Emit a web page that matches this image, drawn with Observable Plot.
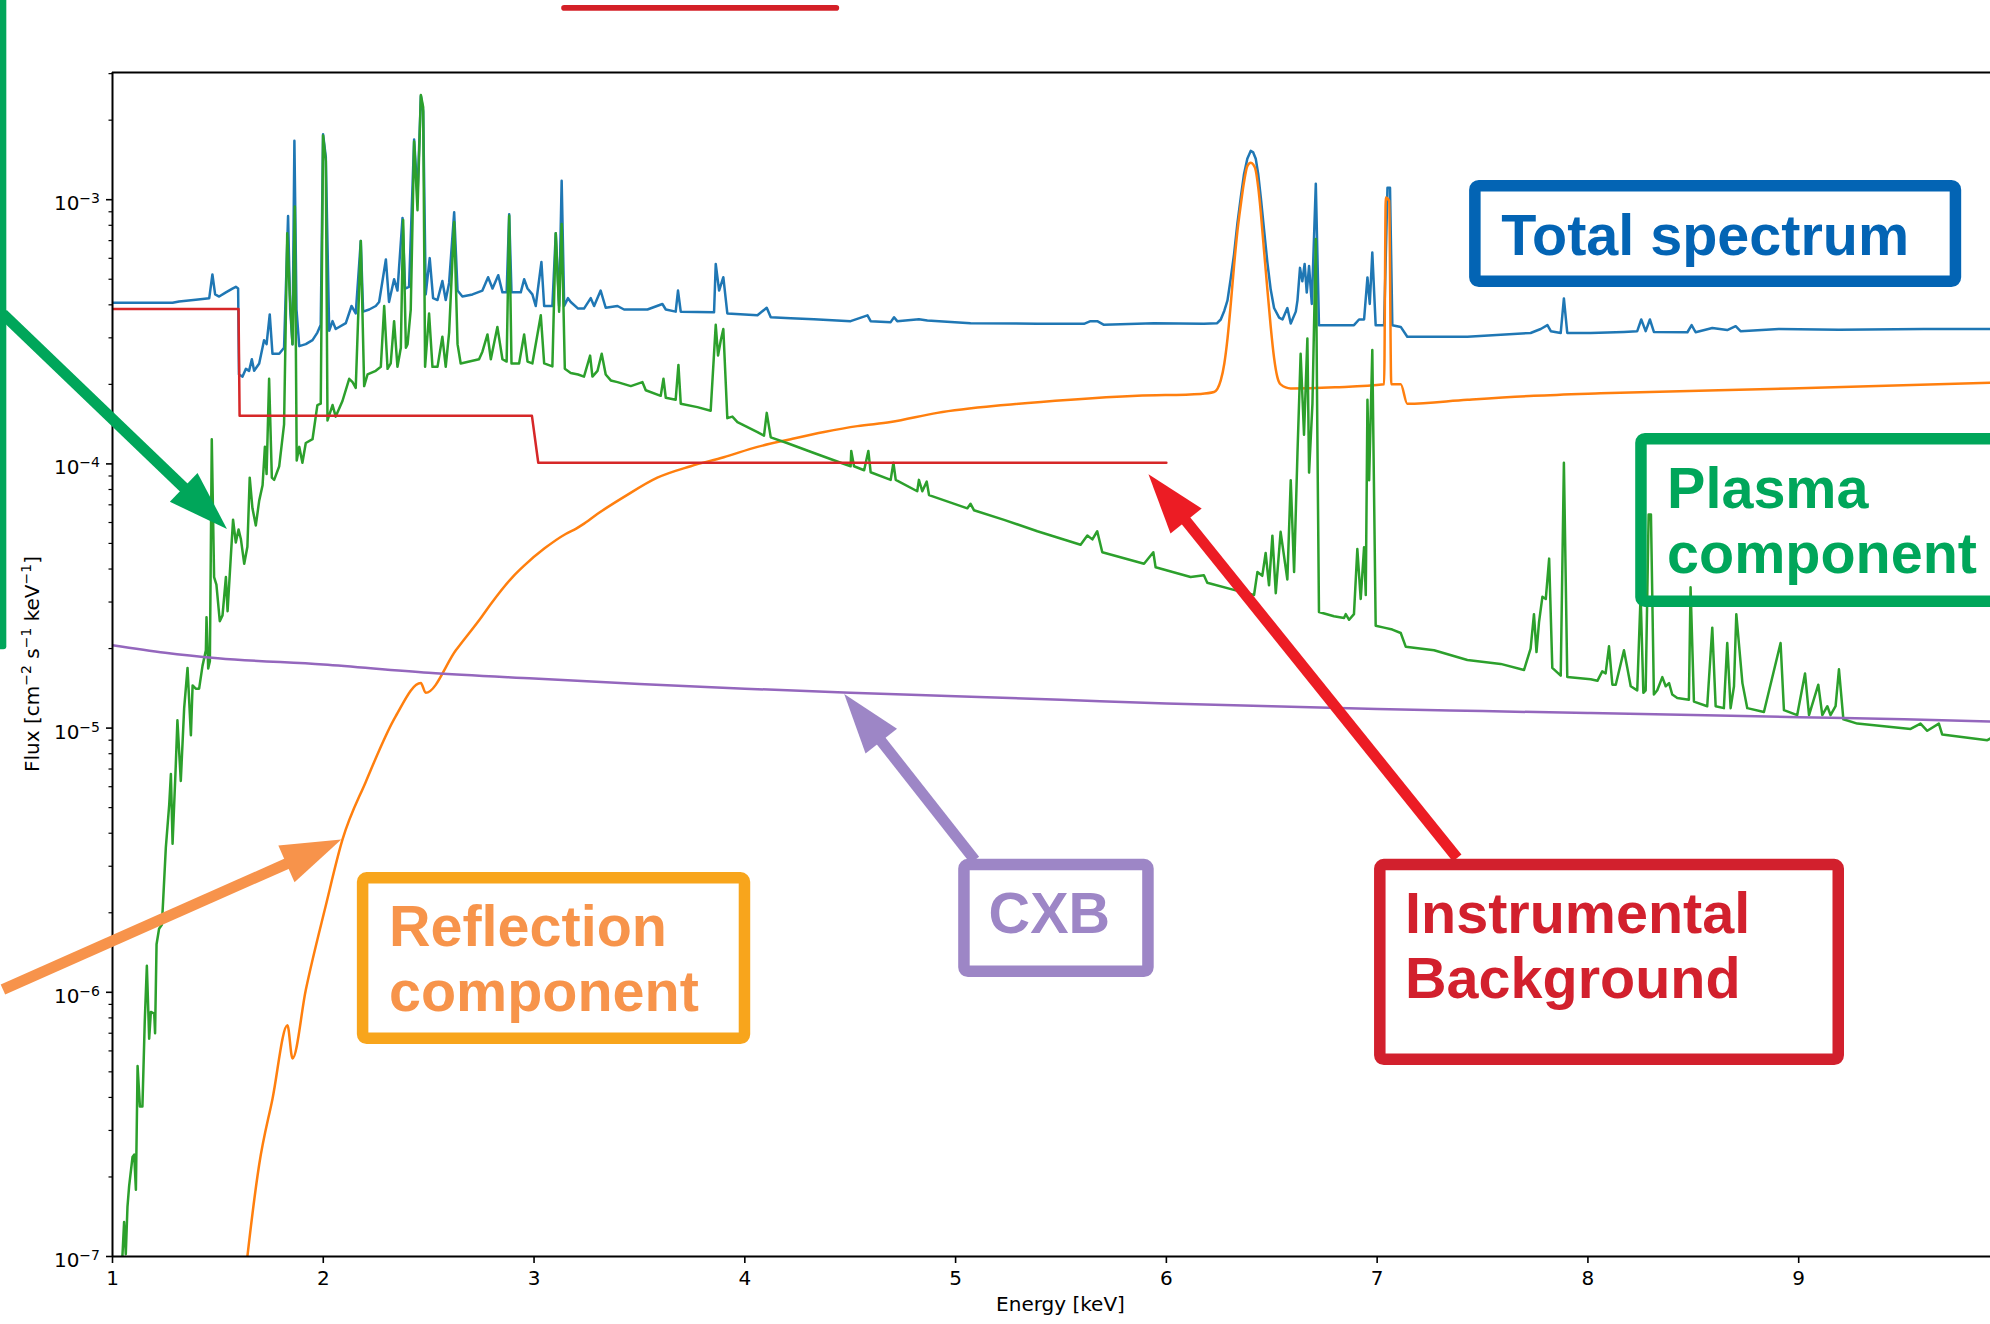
<!DOCTYPE html>
<html><head><meta charset="utf-8">
<script src="https://cdn.jsdelivr.net/npm/d3@7"></script>
<script src="https://cdn.jsdelivr.net/npm/@observablehq/plot@0.6"></script>
<style>html,body{margin:0;padding:0;background:#fff;overflow:hidden}</style>
</head><body><div id="chart"></div>
<script>
// ---------------- data: [energy keV, flux cm^-2 s^-1 keV^-1] ----------------
const totalSpectrum = [
[1.000,4.07e-4],[1.285,4.07e-4],[1.316,4.12e-4],[1.395,4.18e-4],[1.459,4.24e-4],[1.474,5.21e-4],[1.487,4.38e-4],[1.506,4.30e-4],
[1.538,4.46e-4],[1.569,4.61e-4],[1.585,4.68e-4],[1.596,4.61e-4],[1.600,2.18e-4],[1.617,2.14e-4],[1.633,2.29e-4],[1.648,2.25e-4],
[1.661,2.49e-4],[1.672,2.25e-4],[1.696,2.40e-4],[1.719,2.94e-4],[1.731,2.84e-4],[1.746,3.68e-4],[1.759,2.61e-4],[1.791,2.61e-4],
[1.814,2.75e-4],[1.833,8.67e-4],[1.843,3.84e-4],[1.854,2.84e-4],[1.863,1.67e-3],[1.873,3.84e-4],[1.886,2.79e-4],[1.917,2.84e-4],
[1.949,2.94e-4],[1.972,3.14e-4],[1.988,3.36e-4],[1.999,1.77e-3],[2.012,1.45e-3],[2.028,3.19e-4],[2.044,3.47e-4],[2.059,3.24e-4],
[2.107,3.41e-4],[2.134,3.96e-4],[2.154,3.71e-4],[2.178,6.98e-4],[2.189,3.77e-4],[2.218,3.84e-4],[2.249,3.96e-4],[2.265,4.10e-4],
[2.297,5.94e-4],[2.312,4.10e-4],[2.336,5.00e-4],[2.352,4.53e-4],[2.376,8.53e-4],[2.388,4.61e-4],[2.407,4.68e-4],[2.431,1.69e-3],
[2.447,1.04e-3],[2.463,2.47e-3],[2.474,2.16e-3],[2.486,4.38e-4],[2.505,6.01e-4],[2.521,4.24e-4],[2.542,4.17e-4],[2.565,4.92e-4],
[2.581,4.17e-4],[2.597,4.84e-4],[2.621,8.96e-4],[2.637,4.53e-4],[2.660,4.30e-4],[2.708,4.38e-4],[2.755,4.53e-4],[2.782,5.09e-4],
[2.803,4.61e-4],[2.830,5.18e-4],[2.850,4.46e-4],[2.870,4.46e-4],[2.882,8.81e-4],[2.893,4.46e-4],[2.937,4.46e-4],[2.953,5.00e-4],
[2.969,4.61e-4],[2.992,4.38e-4],[3.008,3.96e-4],[3.035,5.81e-4],[3.048,3.96e-4],[3.087,3.96e-4],[3.103,7.46e-4],[3.119,3.96e-4],
[3.131,1.18e-3],[3.143,3.96e-4],[3.161,4.24e-4],[3.174,4.10e-4],[3.209,3.87e-4],[3.237,3.87e-4],[3.269,4.24e-4],[3.285,3.96e-4],
[3.316,4.53e-4],[3.340,3.90e-4],[3.396,3.96e-4],[3.427,3.84e-4],[3.538,3.84e-4],[3.609,4.03e-4],[3.625,3.84e-4],[3.672,3.77e-4],
[3.683,4.53e-4],[3.696,3.77e-4],[3.854,3.75e-4],[3.862,5.71e-4],[3.878,4.53e-4],[3.898,5.09e-4],[3.917,3.71e-4],[4.060,3.65e-4],
[4.104,3.90e-4],[4.123,3.59e-4],[4.218,3.56e-4],[4.328,3.53e-4],[4.502,3.47e-4],[4.582,3.65e-4],[4.597,3.47e-4],[4.692,3.44e-4],
[4.708,3.59e-4],[4.723,3.47e-4],[4.826,3.53e-4],[4.866,3.49e-4],[5.071,3.41e-4],[5.388,3.39e-4],[5.609,3.39e-4],[5.640,3.47e-4],
[5.672,3.47e-4],[5.704,3.36e-4],[5.941,3.41e-4],[6.178,3.39e-4],[6.241,3.41e-4],[6.258,3.52e-4],[6.275,3.80e-4],[6.290,4.16e-4],
[6.305,5.01e-4],[6.321,6.21e-4],[6.337,8.13e-4],[6.353,1.02e-3],[6.368,1.245e-3],[6.384,1.43e-3],[6.400,1.53e-3],[6.412,1.51e-3],
[6.424,1.43e-3],[6.436,1.245e-3],[6.448,1.02e-3],[6.463,7.76e-4],[6.479,5.81e-4],[6.495,4.57e-4],[6.511,3.89e-4],[6.535,3.58e-4],
[6.551,3.52e-4],[6.574,3.89e-4],[6.590,3.40e-4],[6.614,3.77e-4],[6.622,4.16e-4],[6.634,5.52e-4],[6.645,4.91e-4],[6.656,5.71e-4],
[6.666,4.45e-4],[6.677,5.61e-4],[6.690,4.03e-4],[6.709,1.15e-3],[6.724,3.35e-4],[6.890,3.35e-4],[6.914,3.52e-4],[6.938,3.52e-4],
[6.954,5.08e-4],[6.965,4.03e-4],[6.977,6.31e-4],[6.993,3.35e-4],[7.033,3.35e-4],[7.049,1.11e-3],[7.061,1.11e-3],[7.072,3.35e-4],
[7.112,3.30e-4],[7.143,3.03e-4],[7.428,3.03e-4],[7.728,3.13e-4],[7.776,3.24e-4],[7.808,3.35e-4],[7.824,3.18e-4],[7.871,3.13e-4],
[7.886,4.23e-4],[7.902,3.13e-4],[8.013,3.13e-4],[8.171,3.16e-4],[8.234,3.18e-4],[8.253,3.52e-4],[8.274,3.18e-4],[8.294,3.52e-4],
[8.313,3.16e-4],[8.472,3.15e-4],[8.492,3.35e-4],[8.511,3.15e-4],[8.590,3.27e-4],[8.661,3.21e-4],[8.701,3.32e-4],[8.724,3.18e-4],
[8.906,3.24e-4],[9.191,3.22e-4],[9.594,3.24e-4],[9.910,3.24e-4]
];

const reflectionComponent = [
[1.600,5.0e-8],[1.640,1.0e-7],[1.696,2.23e-7],[1.759,3.95e-7],[1.830,7.5e-7],[1.854,5.62e-7],[1.917,1.02e-6],[2.012,2.13e-6],
[2.091,3.78e-6],[2.202,6.27e-6],[2.344,1.11e-5],[2.463,1.48e-5],[2.486,1.36e-5],[2.629,1.97e-5],[2.750,2.63e-5],[2.795,2.95e-5],
[2.898,3.73e-5],[2.953,4.12e-5],[3.050,4.79e-5],[3.150,5.43e-5],[3.200,5.69e-5],[3.230,5.89e-5],[3.300,6.46e-5],[3.427,7.50e-5],
[3.585,8.87e-5],[3.743,9.8e-5],
[3.900,1.06e-4],[4.060,1.16e-4],[4.218,1.24e-4],[4.376,1.32e-4],[4.534,1.39e-4],[4.692,1.44e-4],[4.913,1.56e-4],[5.230,1.67e-4],
[5.546,1.75e-4],[5.862,1.81e-4],[6.163,1.84e-4],[6.226,1.87e-4],[6.258,2.07e-4],[6.275,2.40e-4],[6.290,2.98e-4],[6.305,3.98e-4],
[6.321,5.61e-4],[6.337,7.59e-4],[6.353,9.57e-4],[6.368,1.16e-3],[6.384,1.34e-3],[6.400,1.38e-3],[6.412,1.36e-3],[6.424,1.29e-3],
[6.436,1.11e-3],[6.448,8.95e-4],[6.463,6.46e-4],[6.479,4.60e-4],[6.495,3.31e-4],[6.511,2.52e-4],[6.526,2.14e-4],[6.542,2.0e-4],
[6.590,1.93e-4],[6.800,1.95e-4],[7.033,2.0e-4],[7.041,1.02e-3],[7.057,9.9e-4],[7.067,2.0e-4],[7.112,2.0e-4],[7.143,1.69e-4],
[7.428,1.75e-4],[7.744,1.81e-4],[8.060,1.85e-4],[8.960,1.93e-4],[9.910,2.03e-4]
];

const plasmaComponent = [
[1.000,3e-8],[1.040,8.0e-8],[1.047,1.0e-7],[1.055,1.35e-7],[1.063,1.02e-7],[1.071,1.54e-7],[1.079,1.85e-7],[1.095,2.38e-7],
[1.103,2.43e-7],[1.111,1.79e-7],[1.119,5.26e-7],[1.130,3.70e-7],[1.142,3.70e-7],[1.153,7.74e-7],[1.163,1.26e-6],[1.174,6.67e-7],
[1.182,8.43e-7],[1.198,8.30e-7],[1.202,7.0e-7],[1.209,1.52e-6],[1.221,1.74e-6],[1.234,1.80e-6],[1.240,2.20e-6],[1.253,3.53e-6],
[1.269,5.12e-6],[1.277,6.70e-6],[1.285,3.65e-6],[1.300,7.16e-6],[1.308,1.07e-5],[1.324,6.31e-6],[1.340,1.19e-5],[1.356,1.69e-5],
[1.372,9.4e-6],[1.380,1.45e-5],[1.395,1.41e-5],[1.411,1.41e-5],[1.427,1.72e-5],[1.443,1.97e-5],[1.446,2.63e-5],[1.454,1.68e-5],
[1.462,1.79e-5],[1.471,1.24e-4],[1.482,3.73e-5],[1.493,3.49e-5],[1.509,2.54e-5],[1.522,2.67e-5],[1.538,3.73e-5],[1.546,2.77e-5],
[1.561,4.41e-5],[1.572,6.15e-5],[1.585,5.04e-5],[1.598,5.65e-5],[1.609,5.2e-5],[1.625,4.19e-5],[1.640,4.86e-5],[1.651,8.87e-5],
[1.664,6.79e-5],[1.680,5.85e-5],[1.696,7.26e-5],[1.712,8.3e-5],[1.723,1.16e-4],[1.731,9.16e-5],[1.743,2.1e-4],[1.756,8.87e-5],
[1.767,8.7e-5],[1.791,9.8e-5],[1.814,1.41e-4],[1.829,7.46e-4],[1.841,4.38e-4],[1.854,2.84e-4],[1.865,9.42e-4],[1.874,1.03e-4],
[1.886,1.16e-4],[1.901,1.01e-4],[1.917,1.2e-4],[1.949,1.24e-4],[1.972,1.67e-4],[1.988,1.69e-4],[1.999,1.75e-3],[2.012,1.40e-3],
[2.020,1.46e-4],[2.044,1.67e-4],[2.059,1.51e-4],[2.091,1.73e-4],[2.123,2.1e-4],[2.139,2.04e-4],[2.154,1.94e-4],[2.178,6.98e-4],
[2.194,1.97e-4],[2.210,2.18e-4],[2.249,2.25e-4],[2.273,2.33e-4],[2.289,3.96e-4],[2.305,2.29e-4],[2.320,2.4e-4],[2.336,3.47e-4],
[2.352,2.33e-4],[2.368,2.75e-4],[2.379,8.38e-4],[2.392,2.75e-4],[2.400,2.84e-4],[2.415,3.84e-4],[2.431,1.66e-3],[2.447,9.12e-4],
[2.463,2.49e-3],[2.474,2.24e-3],[2.483,2.33e-4],[2.502,3.71e-4],[2.518,2.33e-4],[2.542,2.33e-4],[2.565,3.03e-4],[2.581,2.33e-4],
[2.597,3.14e-4],[2.621,8.24e-4],[2.637,2.84e-4],[2.652,2.4e-4],[2.739,2.49e-4],[2.755,2.66e-4],[2.779,3.09e-4],[2.795,2.49e-4],
[2.826,3.3e-4],[2.850,2.49e-4],[2.870,2.44e-4],[2.882,8.7e-4],[2.893,2.4e-4],[2.929,2.4e-4],[2.953,3.09e-4],[2.969,2.44e-4],
[2.992,2.4e-4],[3.032,3.65e-4],[3.048,2.4e-4],[3.087,2.34e-4],[3.103,7.46e-4],[3.119,3.77e-4],[3.131,8.1e-4],[3.146,2.29e-4],
[3.174,2.21e-4],[3.209,2.18e-4],[3.237,2.14e-4],[3.266,2.57e-4],[3.277,2.14e-4],[3.301,2.25e-4],[3.321,2.61e-4],[3.340,2.18e-4],
[3.364,2.07e-4],[3.396,2.04e-4],[3.459,1.97e-4],[3.514,2.04e-4],[3.530,1.9e-4],[3.601,1.81e-4],[3.614,2.1e-4],[3.625,1.78e-4],
[3.672,1.75e-4],[3.685,2.37e-4],[3.696,1.69e-4],[3.775,1.64e-4],[3.838,1.59e-4],[3.862,3.36e-4],[3.873,2.57e-4],[3.886,2.94e-4],
[3.898,3.24e-4],[3.917,1.49e-4],[3.941,1.51e-4],[3.965,1.44e-4],[4.060,1.32e-4],[4.091,1.28e-4],[4.104,1.56e-4],[4.123,1.26e-4],
[4.200,1.2e-4],[4.328,1.1e-4],[4.455,1.01e-4],[4.502,9.8e-5],[4.505,1.12e-4],[4.518,9.8e-5],[4.566,9.46e-5],[4.586,1.12e-4],
[4.597,9.3e-5],[4.692,8.7e-5],[4.705,1.01e-4],[4.716,8.7e-5],[4.818,7.88e-5],[4.826,8.7e-5],[4.842,7.88e-5],[4.863,8.57e-5],
[4.874,7.62e-5],[5.056,6.79e-5],[5.071,7.06e-5],[5.087,6.68e-5],[5.230,6.14e-5],[5.388,5.56e-5],[5.593,4.94e-5],[5.625,5.36e-5],
[5.649,5.18e-5],[5.672,5.56e-5],[5.696,4.63e-5],[5.894,4.19e-5],[5.938,4.63e-5],[5.949,4.06e-5],[6.115,3.73e-5],[6.178,3.79e-5],
[6.194,3.55e-5],[6.329,3.32e-5],[6.416,3.19e-5],[6.432,3.9e-5],[6.455,3.77e-5],[6.471,4.6e-5],[6.487,3.47e-5],[6.503,5.35e-5],
[6.519,3.24e-5],[6.542,5.53e-5],[6.574,3.65e-5],[6.590,8.67e-5],[6.606,3.9e-5],[6.622,1.1e-4],[6.637,2.61e-4],[6.653,1.29e-4],
[6.669,2.98e-4],[6.677,9.27e-5],[6.693,1.69e-4],[6.709,7.1e-4],[6.716,1.38e-4],[6.724,2.75e-5],[6.795,2.65e-5],[6.843,2.61e-5],
[6.851,2.7e-5],[6.867,2.57e-5],[6.890,2.7e-5],[6.906,4.76e-5],[6.922,3.08e-5],[6.938,4.84e-5],[6.946,3.19e-5],[6.954,1.75e-4],
[6.962,8.67e-5],[6.977,2.7e-4],[6.993,2.44e-5],[7.033,2.4e-5],[7.072,2.36e-5],[7.112,2.29e-5],[7.136,2.03e-5],[7.270,1.97e-5],
[7.428,1.81e-5],[7.586,1.75e-5],[7.697,1.66e-5],[7.728,2.0e-5],[7.744,2.7e-5],[7.756,1.94e-5],[7.768,2.52e-5],[7.784,3.14e-5],
[7.800,3.08e-5],[7.816,4.38e-5],[7.831,1.69e-5],[7.871,1.58e-5],[7.886,1.01e-4],[7.902,1.56e-5],[8.013,1.53e-5],[8.045,1.51e-5],
[8.068,1.64e-5],[8.084,1.61e-5],[8.100,2.04e-5],[8.116,1.46e-5],[8.132,1.46e-5],[8.171,1.97e-5],[8.187,1.69e-5],[8.203,1.44e-5],
[8.234,1.39e-5],[8.250,3.19e-5],[8.263,1.36e-5],[8.274,1.39e-5],[8.288,6.43e-5],[8.299,6.43e-5],[8.313,1.34e-5],[8.329,1.39e-5],
[8.353,1.56e-5],[8.369,1.44e-5],[8.385,1.48e-5],[8.400,1.34e-5],[8.424,1.3e-5],[8.479,1.28e-5],[8.487,3.41e-5],[8.503,1.26e-5],
[8.566,1.21e-5],[8.590,2.4e-5],[8.606,1.21e-5],[8.645,1.19e-5],[8.661,2.1e-5],[8.677,1.19e-5],[8.693,1.44e-5],[8.704,2.7e-5],
[8.733,1.48e-5],[8.756,1.19e-5],[8.835,1.15e-5],[8.914,2.1e-5],[8.930,1.17e-5],[8.993,1.12e-5],[9.030,1.61e-5],[9.049,1.12e-5],
[9.093,1.46e-5],[9.112,1.12e-5],[9.136,1.21e-5],[9.151,1.12e-5],[9.175,1.21e-5],[9.191,1.67e-5],[9.212,1.08e-5],[9.278,1.04e-5],
[9.531,9.93e-6],[9.578,1.04e-5],[9.610,9.77e-6],[9.665,1.04e-5],[9.681,9.45e-6],[9.895,9.0e-6],[9.910,9.14e-6]
];

const instrumentalBackground = [
[1.000,3.86e-4],[1.598,3.86e-4],[1.603,1.52e-4],[2.990,1.52e-4],[3.020,1.01e-4],[6.000,1.01e-4]
];

const cxbComponent = [
[1.0,2.06e-5],[1.25,1.93e-5],[1.5,1.84e-5],[2.0,1.74e-5],[2.5,1.62e-5],[3.0,1.54e-5],[3.5,1.47e-5],[4.0,1.41e-5],
[4.5,1.36e-5],[5.0,1.32e-5],[5.5,1.28e-5],[6.0,1.24e-5],[6.5,1.21e-5],[7.0,1.18e-5],[7.5,1.16e-5],[8.0,1.14e-5],
[8.5,1.12e-5],[9.0,1.10e-5],[9.5,1.08e-5],[9.91,1.06e-5]
];

// ---------------- ticks ----------------
const xTicks = [1, 2, 3, 4, 5, 6, 7, 8, 9];
const xTickLabels = ["1", "2", "3", "4", "5", "6", "7", "8", "9"];
const yMajorTicks = [1e-7, 1e-6, 1e-5, 1e-4, 1e-3];
const yTickExponents = ["\u22127", "\u22126", "\u22125", "\u22124", "\u22123"];
const yMinorTicks = [2e-7,3e-7,4e-7,5e-7,6e-7,7e-7,8e-7,9e-7, 2e-6,3e-6,4e-6,5e-6,6e-6,7e-6,8e-6,9e-6,
  2e-5,3e-5,4e-5,5e-5,6e-5,7e-5,8e-5,9e-5, 2e-4,3e-4,4e-4,5e-4,6e-4,7e-4,8e-4,9e-4, 2e-3,3e-3];

// ---------------- annotations (in data coordinates) ----------------
const annotationBoxes = [
  {lines: ["Total spectrum"], x1: 7.466, x2: 9.746, y1: 1.125e-3, y2: 4.89e-4, tx: 7.591, ty: [6.15e-4], stroke: "#0364b4", color: "#0364b4"},
  {lines: ["Plasma", "component"], x1: 8.254, x2: 10.6, y1: 1.24e-4, y2: 3.01e-5, tx: 8.378, ty: [6.78e-5, 3.85e-5], stroke: "#00a65a", color: "#00a65a"},
  {lines: ["Reflection", "component"], x1: 2.189, x2: 4.0007, y1: 2.70e-6, y2: 6.67e-7, tx: 2.314, ty: [1.49e-6, 8.46e-7], stroke: "#f8a51c", color: "#f7944b"},
  {lines: ["CXB"], x1: 5.042, x2: 5.915, y1: 3.03e-6, y2: 1.196e-6, tx: 5.159, ty: [1.67e-6], stroke: "#9d86c6", color: "#9d86c6"},
  {lines: ["Instrumental", "Background"], x1: 7.015, x2: 9.190, y1: 3.03e-6, y2: 5.55e-7, tx: 7.135, ty: [1.67e-6, 9.51e-7], stroke: "#d2202d", color: "#d2202d"}
];
const annotationArrows = [
  {from: [0.4826, 3.68e-4], to: [1.5455, 5.65e-5], color: "#00a65a"},
  {from: [0.4826, 1.02e-6], to: [2.0878, 3.77e-6], color: "#f7934b"},
  {from: [5.0934, 3.15e-6], to: [4.4739, 1.34e-5], color: "#9d86c6"},
  {from: [7.382, 3.21e-6], to: [5.9175, 9.10e-5], color: "#ec1c24"}
];
const annotationBars = [
  {x1: 0.4464, x2: 0.4986, y1: 6.2e-3, y2: 1.98e-5, color: "#00a65a"},
  {x1: 3.131, x2: 4.45, y1: 5.43e-3, y2: 5.17e-3, color: "#d42027"}
];

const W = 1990, H = 1324, ML = 112;

function annotate(index, scales) {
  const X = scales.x, Y = scales.y;
  const g = d3.create("svg:g");
  // y tick labels 10^n
  yMajorTicks.forEach((t, i) => {
    const txt = g.append("text").attr("x", ML - 12).attr("y", Y(t) + 11)
      .attr("text-anchor", "end").attr("font-family", "DejaVu Sans").attr("font-size", 20).attr("fill", "#000");
    txt.append("tspan").text("10");
    txt.append("tspan").attr("font-size", 14).attr("dy", -7).text(yTickExponents[i]);
  });
  // y axis label
  const yl = g.append("text").attr("transform", `translate(39,${(72 + 1256) / 2}) rotate(-90)`)
    .attr("text-anchor", "middle").attr("font-family", "DejaVu Sans").attr("font-size", 20).attr("fill", "#000");
  const parts = [["Flux [cm", 0], ["\u22122", 1], [" s", 0], ["\u22121", 1], [" keV", 0], ["\u22121", 1], ["]", 0]];
  let up = false;
  for (const [s, sup] of parts) {
    const ts = yl.append("tspan").text(s).attr("font-size", sup ? 14 : 20);
    if (sup && !up) { ts.attr("dy", -8); up = true; }
    else if (!sup && up) { ts.attr("dy", 8); up = false; }
  }
  // x axis label
  g.append("text").attr("x", X(5.5)).attr("y", 1311).attr("text-anchor", "middle")
    .attr("font-family", "DejaVu Sans").attr("font-size", 20).attr("fill", "#000").text("Energy [keV]");
  // bars
  for (const b of annotationBars) {
    g.append("rect").attr("x", X(b.x1)).attr("y", Y(b.y1)).attr("width", X(b.x2) - X(b.x1))
      .attr("height", Y(b.y2) - Y(b.y1)).attr("rx", 3).attr("fill", b.color);
  }
  // arrows
  const headLen = 60, headHalf = 20;
  for (const a of annotationArrows) {
    const x1 = X(a.from[0]), y1 = Y(a.from[1]), x2 = X(a.to[0]), y2 = Y(a.to[1]);
    const dx = x2 - x1, dy = y2 - y1, L = Math.hypot(dx, dy), ux = dx / L, uy = dy / L;
    const bx = x2 - ux * headLen, by = y2 - uy * headLen;
    g.append("line").attr("x1", x1).attr("y1", y1).attr("x2", bx + ux * 3).attr("y2", by + uy * 3)
      .attr("stroke", a.color).attr("stroke-width", 11);
    const pts = [[x2, y2], [bx - uy * headHalf, by + ux * headHalf], [bx + uy * headHalf, by - ux * headHalf]];
    g.append("polygon").attr("points", pts.map(p => p.join(",")).join(" ")).attr("fill", a.color);
  }
  // boxes + labels
  for (const b of annotationBoxes) {
    g.append("rect").attr("x", X(b.x1)).attr("y", Y(b.y1)).attr("width", X(b.x2) - X(b.x1))
      .attr("height", Y(b.y2) - Y(b.y1)).attr("rx", 4).attr("fill", "none")
      .attr("stroke", b.stroke).attr("stroke-width", 11.5);
    b.lines.forEach((line, i) => {
      g.append("text").attr("x", X(b.tx)).attr("y", Y(b.ty[i])).attr("text-anchor", "start")
        .attr("font-family", "Liberation Sans, Arial, sans-serif").attr("font-weight", "bold")
        .attr("font-size", 57.5).attr("fill", b.color).text(line);
    });
  }
  return g.node();
}

const lineOpts = (color, curve = "linear") => ({x: d => d[0], y: d => d[1], stroke: color, strokeWidth: 2.5, curve, clip: true});

const plot = Plot.plot({
  width: W, height: H,
  marginLeft: ML, marginRight: 0, marginTop: 72, marginBottom: 68,
  style: {fontFamily: "DejaVu Sans", fontSize: "20px", background: "#fff"},
  x: {type: "linear", domain: [1, 9.91]},
  y: {type: "log", domain: [1e-7, 3.03e-3]},
  marks: [
    Plot.line(totalSpectrum, lineOpts("#1f77b4")),
    Plot.line(reflectionComponent, lineOpts("#ff7f0e", "monotone-x")),
    Plot.line(plasmaComponent, lineOpts("#2ca02c")),
    Plot.line(instrumentalBackground, lineOpts("#d62728")),
    Plot.line(cxbComponent, lineOpts("#9467bd", "monotone-x")),
    Plot.ruleX([1], {strokeWidth: 2}),
    Plot.ruleY([1e-7, 3.03e-3], {strokeWidth: 2}),
    Plot.axisX(xTicks, {tickSize: 7, tickPadding: 7, tickFormat: d => xTickLabels[xTicks.indexOf(d)], strokeWidth: 1.6, label: null, fontSize: 20}),
    Plot.axisY(yMajorTicks, {tickSize: 6, tickFormat: () => "", strokeWidth: 1.6, label: null}),
    Plot.axisY(yMinorTicks, {tickSize: 3.5, tickFormat: () => "", strokeWidth: 1.2, label: null}),
    annotate
  ]
});
document.getElementById("chart").appendChild(plot);
</script>
</body></html>
